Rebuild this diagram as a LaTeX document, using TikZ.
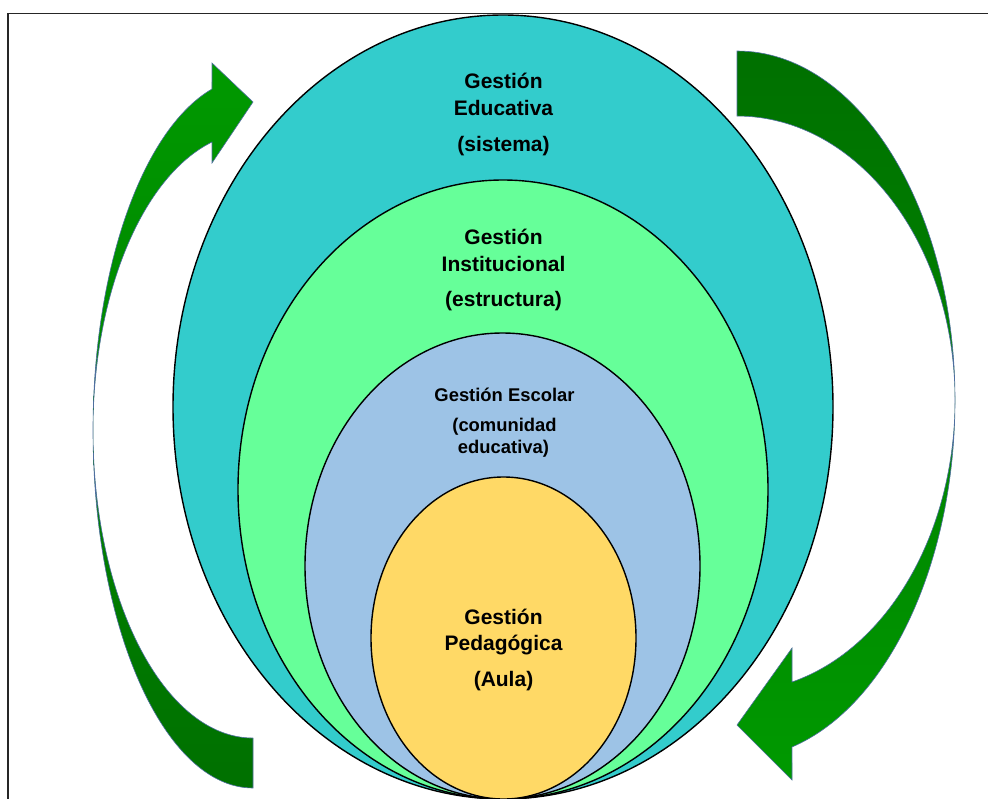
\documentclass[tikz,border=0pt]{standalone}
\usepackage{fontspec}
\setmainfont{Liberation Sans}
\definecolor{teal1}{HTML}{33CCCC}
\definecolor{green1}{HTML}{66FF99}
\definecolor{blue1}{HTML}{9DC3E6}
\definecolor{yellow1}{HTML}{FFD966}
\definecolor{gbright}{HTML}{009900}
\definecolor{gdark}{HTML}{007000}
\definecolor{arrowline}{HTML}{4F6FA0}
\begin{document}
\begin{tikzpicture}[x=1pt,y=-1pt,
  ring/.style={draw=black,line width=1.4pt},
  lbl/.style={anchor=base,inner sep=0pt,font=\fontsize{21}{25}\selectfont\bfseries},
  lblsmall/.style={anchor=base,inner sep=0pt,font=\fontsize{18.4}{22}\selectfont\bfseries},
  bigarrow/.style={draw=arrowline,line width=0.6pt}]
\useasboundingbox (0,0) rectangle (988,798);
% frame
\draw[line width=1.8pt,black!85] (8,800) -- (8,13.5) -- (990,13.5);
% ellipses
\draw[ring,fill=teal1] (503,407) ellipse[x radius=330,y radius=392];
\draw[ring,fill=green1] (503,489.5) ellipse[x radius=265,y radius=309.5];
\draw[ring,fill=blue1] (502.5,566) ellipse[x radius=197.5,y radius=233];
\draw[ring,fill=yellow1] (503.5,638) ellipse[x radius=132.5,y radius=161];
% left arrow
\path[bigarrow,top color=gbright,bottom color=gdark]
  (253,788) arc[start angle=90,end angle=180,x radius=160,y radius=358]
  arc[start angle=180,end angle=255.15,x radius=160,y radius=352.8]
  -- (212,63) -- (253,102) -- (212,163) -- (212,142)
  arc[start angle=255.15,end angle=180,x radius=160,y radius=298]
  arc[start angle=180,end angle=90,x radius=160,y radius=308]
  -- cycle;
% right arrow
\path[bigarrow,top color=gdark,bottom color=gbright]
  (737,51) arc[start angle=270,end angle=360,x radius=218,y radius=349]
  arc[start angle=0,end angle=75.39,x radius=218,y radius=358.6]
  -- (792,780) -- (737,725) -- (792,648) -- (792,682)
  arc[start angle=75.39,end angle=0,x radius=218,y radius=291.4]
  arc[start angle=360,end angle=270,x radius=218,y radius=284]
  -- cycle;
% texts
\node[lbl] (e1) at (503.5,88) {Gestión};
\node[lbl] (e2) at (503.5,115) {Educativa};
\node[lbl] (e3) at (503.5,151) {(sistema)};
\node[lbl] (i1) at (503.5,244) {Gestión};
\node[lbl] (i2) at (503.5,271) {Institucional};
\node[lbl] (i3) at (503.5,306) {(estructura)};
\node[lblsmall] (s1) at (504.5,401) {Gestión Escolar};
\node[lblsmall] (s2) at (504.5,431) {(comunidad};
\node[lblsmall] (s3) at (503.5,453) {educativa)};
\node[lbl] (p1) at (503.5,624) {Gestión};
\node[lbl] (p2) at (503.5,650) {Pedagógica};
\node[lbl] (p3) at (503.5,686) {(Aula)};
\end{tikzpicture}
\end{document}
